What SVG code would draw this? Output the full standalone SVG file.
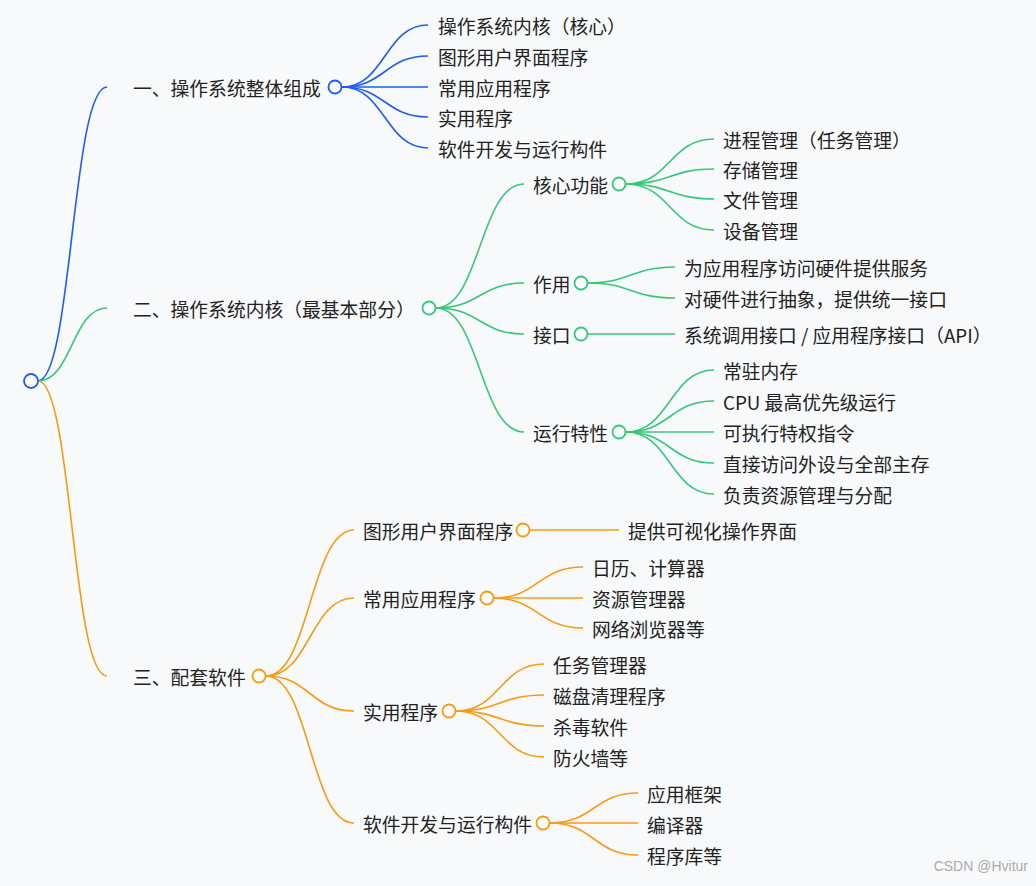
<svg xmlns="http://www.w3.org/2000/svg" width="1036" height="886" viewBox="0 0 1036 886">
<style>
text{font-family:"Noto Sans CJK SC","Noto Sans",sans-serif;font-size:18.8px;fill:#222;dominant-baseline:central}
path{fill:none;stroke-width:1.6}
.b path,path.b{stroke:#1d5cf5}.g path,path.g{stroke:#35c878}.o path,path.o{stroke:#fa9a14}
circle{fill:#fff;stroke-width:1.8}
circle.b{stroke:#1d5cf5}circle.g{stroke:#35c878}circle.o{stroke:#fa9a14}
.wm{font-size:14px;fill:#aaa;font-family:"Liberation Sans",sans-serif}
</style>
<rect width="1036" height="886" fill="#f8f9fb"/>
<g id="connectors">
<g class="b">
<path d="M38 381C72 381 72 87 107 87"/>
<path d="M342 87C385 87 385 25 428 25"/><path d="M342 87C385 87 385 56 428 56"/><path d="M342 87H428"/><path d="M342 87C385 87 385 117 428 117"/><path d="M342 87C385 87 385 148 428 148"/>
</g>
<g class="g">
<path d="M38 381C72 381 72 308 107 308"/>
<path d="M436 308C480 308 480 184 524 184"/><path d="M436 308C480 308 480 283 524 283"/><path d="M436 308C480 308 480 334 524 334"/><path d="M436 308C480 308 480 432 524 432"/>
<path d="M626 184C670 184 670 139 714 139"/><path d="M626 184C670 184 670 169 714 169"/><path d="M626 184C670 184 670 199 714 199"/><path d="M626 184C670 184 670 230 714 230"/>
<path d="M588 283C631 283 631 267 675 267"/><path d="M588 283C631 283 631 298 675 298"/>
<path d="M588 334H675"/>
<path d="M626 432C670 432 670 370 714 370"/><path d="M626 432C670 432 670 401 714 401"/><path d="M626 432H714"/><path d="M626 432C670 432 670 463 714 463"/><path d="M626 432C670 432 670 494 714 494"/>
</g>
<g class="o">
<path d="M38 381C72 381 72 676 107 676"/>
<path d="M266 676C310 676 310 530 354 530"/><path d="M266 676C310 676 310 598 354 598"/><path d="M266 676C310 676 310 711 354 711"/><path d="M266 676C310 676 310 823 354 823"/>
<path d="M530 530H619"/>
<path d="M494 598C538 598 538 567 583 567"/><path d="M494 598H583"/><path d="M494 598C538 598 538 628 583 628"/>
<path d="M456 711C500 711 500 664 544 664"/><path d="M456 711C500 711 500 695 544 695"/><path d="M456 711C500 711 500 726 544 726"/><path d="M456 711C500 711 500 757 544 757"/>
<path d="M550 823C594 823 594 793 638 793"/><path d="M550 823H638"/><path d="M550 823C594 823 594 855 638 855"/>
</g>
</g>
<g id="root"><circle class="b" cx="31" cy="381" r="7"/></g>
<g id="n1"><text x="133" y="87">一、操作系统整体组成</text><circle class="b" cx="335" cy="87" r="6.5"/></g>
<g id="n1a"><text x="438" y="25">操作系统内核（核心）</text></g>
<g id="n1b"><text x="438" y="56">图形用户界面程序</text></g>
<g id="n1c"><text x="438" y="87">常用应用程序</text></g>
<g id="n1d"><text x="438" y="117">实用程序</text></g>
<g id="n1e"><text x="438" y="148">软件开发与运行构件</text></g>
<g id="n2"><text x="133" y="308">二、操作系统内核（最基本部分）</text><circle class="g" cx="429" cy="308" r="6.5"/></g>
<g id="n2a"><text x="533" y="184">核心功能</text><circle class="g" cx="619" cy="184" r="6.5"/></g>
<g id="n2a1"><text x="723" y="139">进程管理（任务管理）</text></g>
<g id="n2a2"><text x="723" y="169">存储管理</text></g>
<g id="n2a3"><text x="723" y="199">文件管理</text></g>
<g id="n2a4"><text x="723" y="230">设备管理</text></g>
<g id="n2b"><text x="533" y="283">作用</text><circle class="g" cx="581" cy="283" r="6.5"/></g>
<g id="n2b1"><text x="684" y="267">为应用程序访问硬件提供服务</text></g>
<g id="n2b2"><text x="684" y="298">对硬件进行抽象，提供统一接口</text></g>
<g id="n2c"><text x="533" y="334">接口</text><circle class="g" cx="581" cy="334" r="6.5"/></g>
<g id="n2c1"><text x="684" y="334">系统调用接口 / 应用程序接口（API）</text></g>
<g id="n2d"><text x="533" y="432">运行特性</text><circle class="g" cx="619" cy="432" r="6.5"/></g>
<g id="n2d1"><text x="723" y="370">常驻内存</text></g>
<g id="n2d2"><text x="723" y="401">CPU 最高优先级运行</text></g>
<g id="n2d3"><text x="723" y="432">可执行特权指令</text></g>
<g id="n2d4"><text x="723" y="463">直接访问外设与全部主存</text></g>
<g id="n2d5"><text x="723" y="494">负责资源管理与分配</text></g>
<g id="n3"><text x="133" y="676">三、配套软件</text><circle class="o" cx="259" cy="676" r="6.5"/></g>
<g id="n3a"><text x="363" y="530">图形用户界面程序</text><circle class="o" cx="523" cy="530" r="6.5"/></g>
<g id="n3a1"><text x="628" y="530">提供可视化操作界面</text></g>
<g id="n3b"><text x="363" y="598">常用应用程序</text><circle class="o" cx="487" cy="598" r="6.5"/></g>
<g id="n3b1"><text x="592" y="567">日历、计算器</text></g>
<g id="n3b2"><text x="592" y="598">资源管理器</text></g>
<g id="n3b3"><text x="592" y="628">网络浏览器等</text></g>
<g id="n3c"><text x="363" y="711">实用程序</text><circle class="o" cx="449" cy="711" r="6.5"/></g>
<g id="n3c1"><text x="553" y="664">任务管理器</text></g>
<g id="n3c2"><text x="553" y="695">磁盘清理程序</text></g>
<g id="n3c3"><text x="553" y="726">杀毒软件</text></g>
<g id="n3c4"><text x="553" y="757">防火墙等</text></g>
<g id="n3d"><text x="363" y="823">软件开发与运行构件</text><circle class="o" cx="543" cy="823" r="6.5"/></g>
<g id="n3d1"><text x="647" y="793">应用框架</text></g>
<g id="n3d2"><text x="647" y="824">编译器</text></g>
<g id="n3d3"><text x="647" y="855">程序库等</text></g>
<text class="wm" x="1028" y="866" text-anchor="end">CSDN @Hvitur</text>
</svg>
